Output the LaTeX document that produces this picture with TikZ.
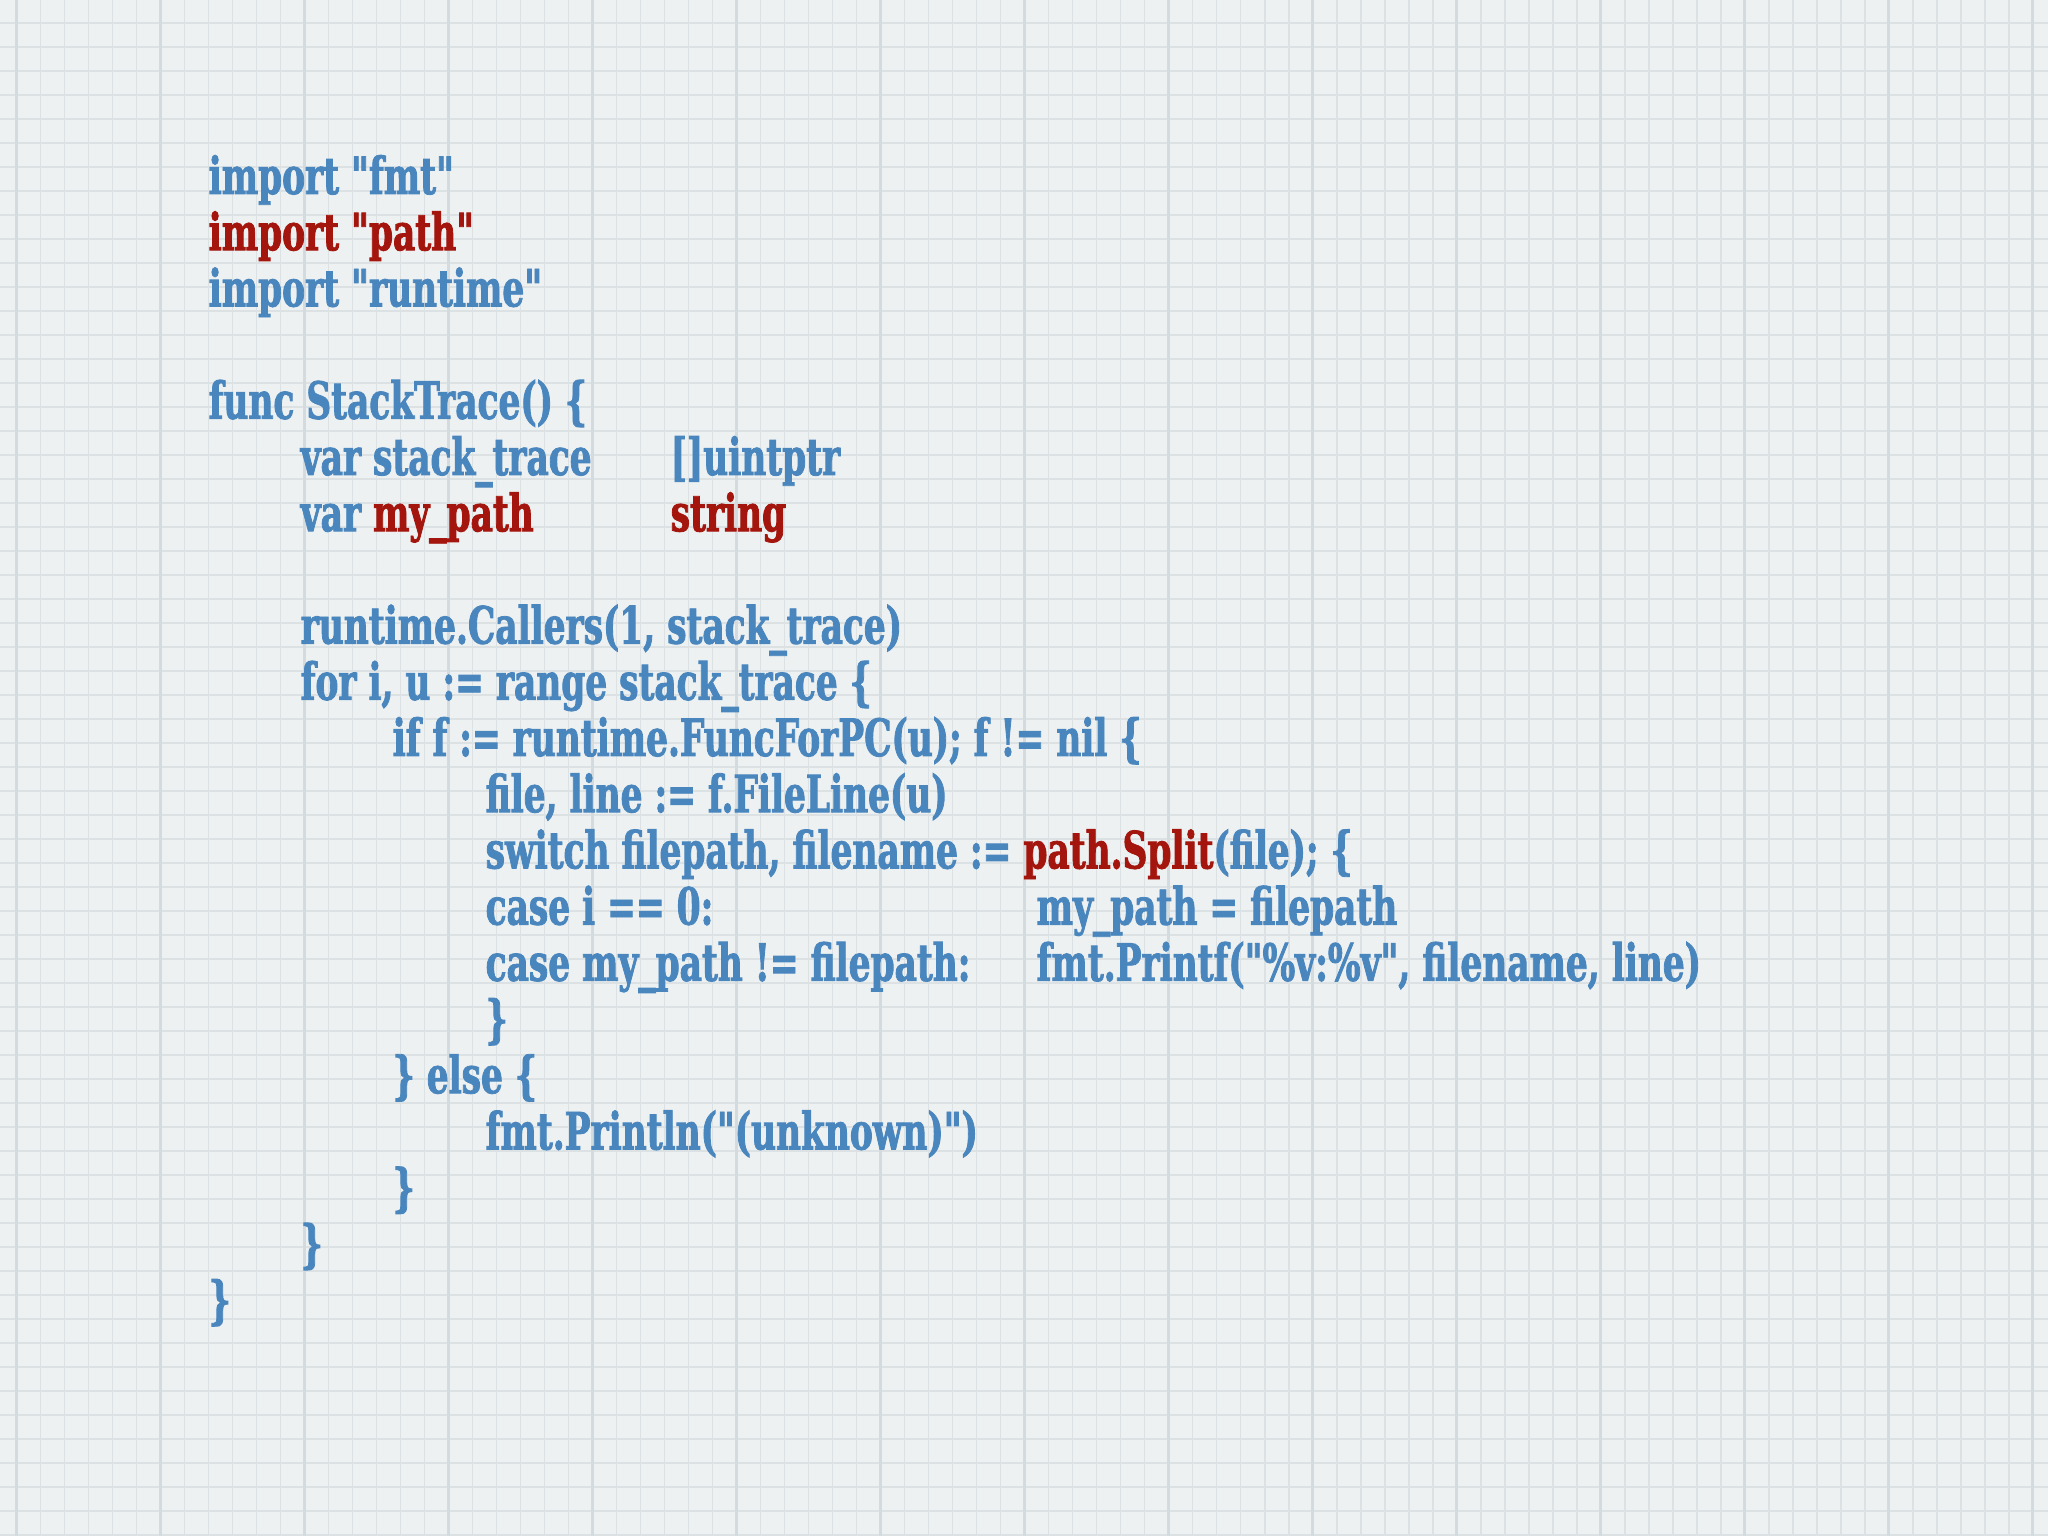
\documentclass[tikz,border=0pt]{standalone}
\usepackage{fontspec}
\newfontfamily\codefont{DejaVu Serif}[FakeStretch=0.67, FakeBold=1.6]
\usetikzlibrary{positioning}

\definecolor{paper}{HTML}{EEF1F1}
\definecolor{gridminor}{HTML}{DCE2E4}
\definecolor{gridmajor}{HTML}{D3DBDE}
\definecolor{codeblue}{HTML}{4A86BE}
\definecolor{codered}{HTML}{A3150D}

\tikzset{
	code/.style={anchor=base west, inner sep=0pt, text=codeblue, font=\codefont\bfseries\fontsize{14.6pt}{16pt}\selectfont},
	hot/.style={code, text=codered},
	gridline/.style={draw=gridminor, line width=0.55pt},
	gridbold/.style={draw=gridmajor, line width=0.65pt}
}
\newcommand{\red}[1]{\textcolor{codered}{#1}}

\begin{document}
\begin{tikzpicture}
		% paper
		\fill[paper] (0,0) rectangle (20.48,-15.36);
		\useasboundingbox (0,0) rectangle (20.48,-15.36);
		\foreach \i in {0,...,85} \draw[gridline] ({0.165+0.24*\i},0) -- ++(0,-15.36);
		\foreach \j in {0,...,63} \draw[gridline] (0,{-0.23-0.24*\j}) -- ++(20.48,0);
		\foreach \i in {0,6,...,84} \draw[gridbold] ({0.165+0.24*\i},0) -- ++(0,-15.36);
		% code, one unit of y per line
		\begin{scope}[shift={(0cm,-1.378cm)}, y=-0.562cm]
			\node[code] (imp1) at (2.08,1) {import "fmt"};
			\node[hot] (imp2) at (2.08,2) {import "path"};
			\node[code] (imp3) at (2.08,3) {import "runtime"};
			\node[code] (func) at (2.08,5) {func StackTrace() \{};
			\node[code] (var1) at (3.00,6) {var stack\_trace};
			\node[code] (typ1) at (6.70,6) {[]uintptr};
			\node[code] (var2) at (3.00,7) {var \red{my\_path}};
			\node[hot] (typ2) at (6.70,7) {string};
			\node[code] (call) at (3.00,9) {runtime.Callers(1, stack\_trace)};
			\node[code] (loop) at (3.00,10) {for i, u := range stack\_trace \{};
			\node[code] (cond) at (3.92,11) {if f := runtime.FuncForPC(u); f != nil \{};
			\node[code] (file) at (4.85,12) {file, line := f.FileLine(u)};
			\node[code] (swit) at (4.85,13) {switch filepath, filename := \red{path.Split}(file); \{};
			\node[code] (cas1) at (4.85,14) {case i == 0:};
			\node[code] (act1) at (10.36,14) {my\_path = filepath};
			\node[code] (cas2) at (4.85,15) {case my\_path != filepath:};
			\node[code] (act2) at (10.36,15) {fmt.Printf("\%v:\%v", filename, line)};
			\node[code] (end1) at (4.85,16) {\}};
			\node[code] (else) at (3.92,17) {\} else \{};
			\node[code] (prnt) at (4.85,18) {fmt.Println("(unknown)")};
			\node[code] (end2) at (3.92,19) {\}};
			\node[code] (end3) at (3.00,20) {\}};
			\node[code] (end4) at (2.08,21) {\}};
		\end{scope}
	\end{tikzpicture}
\end{document}
